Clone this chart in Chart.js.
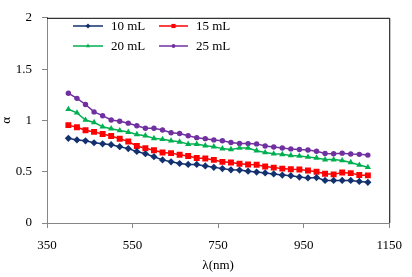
<!DOCTYPE html>
<html>
<head>
<meta charset="utf-8">
<script src="https://cdn.jsdelivr.net/npm/chart.js@4/dist/chart.umd.min.js"></script>
<style>
html,body{margin:0;padding:0;background:#fff;}
#wrap{width:412px;height:277px;position:relative;}
</style>
</head>
<body>
<div id="wrap"><canvas id="c" width="412" height="277"></canvas></div>
<script>
const wavelengths = [400,420,440,460,480,500,520,540,560,580,600,620,640,660,680,700,720,740,760,780,800,820,840,860,880,900,920,940,960,980,1000,1020,1040,1060,1080,1100];
const seriesNames = ['10 mL','15 mL','20 mL','25 mL'];
const alpha10 = [0.825,0.810,0.801,0.782,0.772,0.763,0.744,0.725,0.697,0.675,0.646,0.615,0.596,0.580,0.571,0.571,0.556,0.543,0.530,0.518,0.516,0.505,0.496,0.488,0.478,0.467,0.461,0.448,0.439,0.443,0.415,0.415,0.415,0.415,0.405,0.396];
const alpha15 = [0.954,0.933,0.904,0.888,0.867,0.848,0.822,0.794,0.750,0.728,0.709,0.687,0.681,0.665,0.653,0.634,0.628,0.615,0.596,0.589,0.577,0.571,0.568,0.551,0.540,0.530,0.524,0.521,0.512,0.499,0.480,0.474,0.493,0.486,0.467,0.464];
const alpha20 = [1.108,1.074,1.004,0.980,0.938,0.919,0.901,0.886,0.863,0.851,0.825,0.816,0.801,0.791,0.769,0.769,0.754,0.744,0.725,0.717,0.731,0.731,0.705,0.687,0.675,0.669,0.659,0.653,0.643,0.634,0.618,0.618,0.609,0.590,0.565,0.543];
const alpha25 = [1.265,1.215,1.155,1.083,1.046,1.004,0.992,0.973,0.948,0.923,0.923,0.907,0.879,0.872,0.851,0.832,0.822,0.810,0.801,0.785,0.775,0.774,0.771,0.750,0.741,0.731,0.722,0.716,0.712,0.700,0.678,0.675,0.681,0.672,0.669,0.662];
const xTicks = [350,550,750,950,1150];
const yTicks = [0,0.5,1,1.5,2];

const colors = ['#13306F','#FF0000','#00B050','#7030A0'];
const styles = ['rectRot','rect','triangle','circle'];
const radii = [3.6,4.2,3.6,2.7];
const allSeries = [alpha10,alpha15,alpha20,alpha25];

const FONT = "Liberation Serif, Times New Roman, serif";

const datasets = allSeries.map((vals,i)=>({
  label: seriesNames[i],
  data: wavelengths.map((w,j)=>({x:w,y:vals[j]})),
  borderColor: colors[i],
  backgroundColor: colors[i],
  borderWidth: 1.5,
  pointStyle: styles[i],
  pointRadius: radii[i],
  pointBorderWidth: 0,
  pointBackgroundColor: colors[i],
  pointBorderColor: colors[i],
  tension: 0,
  fill: false
}));

const framePlugin = {
  id: 'frame',
  afterDraw(chart){
    const ctx = chart.ctx, a = chart.chartArea;
    ctx.save();
    ctx.strokeStyle = '#000';
    ctx.lineWidth = 1;
    ctx.beginPath();
    ctx.moveTo(a.left, a.top + 0.5);
    ctx.lineTo(a.right + 0.5, a.top + 0.5);
    ctx.lineTo(a.right + 0.5, a.bottom);
    ctx.stroke();
    // legend
    const rows = [26, 46];
    const cols = [{l:73, r:103, t:111},{l:159, r:188, t:196}];
    ctx.font = "13px " + FONT;
    ctx.textBaseline = 'middle';
    ctx.textAlign = 'left';
    chart.data.datasets.forEach((ds,i)=>{
      const row = rows[Math.floor(i/2)];
      const col = cols[i%2];
      ctx.strokeStyle = ds.borderColor;
      ctx.lineWidth = 1.5;
      ctx.beginPath();
      ctx.moveTo(col.l, row);
      ctx.lineTo(col.r, row);
      ctx.stroke();
      ctx.fillStyle = ds.borderColor;
      Chart.helpers.drawPoint(ctx, {pointStyle: ds.pointStyle, radius: ds.pointRadius*0.7, borderWidth: 0, rotation: 0}, (col.l+col.r)/2, row);
      ctx.fillStyle = '#000';
      ctx.fillText(ds.label, col.t, row + 1);
    });
    ctx.restore();
  }
};

new Chart(document.getElementById('c'), {
  type: 'line',
  data: { datasets },
  options: {
    responsive: false,
    animation: false,
    devicePixelRatio: 1,
    layout: { padding: { top: 11, right: 20, left: 0, bottom: 0 } },
    plugins: { legend: { display: false }, tooltip: { enabled: false } },
    scales: {
      x: {
        type: 'linear',
        min: 350, max: 1150,
        afterBuildTicks(axis){ axis.ticks = xTicks.map(v=>({value:v})); },
        afterFit(axis){ axis.height = 54; },
        grid: { display: true, drawOnChartArea: false, drawTicks: true, tickLength: 5, color: '#868686' },
        border: { display: true, color: '#868686', width: 1 },
        ticks: { color: '#000', font: { family: FONT, size: 13 }, padding: 10, maxRotation: 0, autoSkip: false, callback: v => String(v) },
        title: { display: true, text: 'λ(nm)', color: '#000', font: { family: FONT, size: 13 }, padding: { top: 0, bottom: 4 } }
      },
      y: {
        type: 'linear',
        min: 0, max: 2,
        afterBuildTicks(axis){ axis.ticks = yTicks.map(v=>({value:v})); },
        afterFit(axis){ axis.width = 47; },
        grid: { display: true, drawOnChartArea: false, drawTicks: true, tickLength: 5, color: '#868686' },
        border: { display: true, color: '#868686', width: 1 },
        ticks: { color: '#000', font: { family: FONT, size: 13 }, padding: 10, autoSkip: false, callback: v => String(v) },
        title: { display: true, text: 'α', color: '#000', font: { family: FONT, size: 13, lineHeight: 1 }, padding: 0 }
      }
    }
  },
  plugins: [framePlugin]
});
</script>
</body>
</html>
